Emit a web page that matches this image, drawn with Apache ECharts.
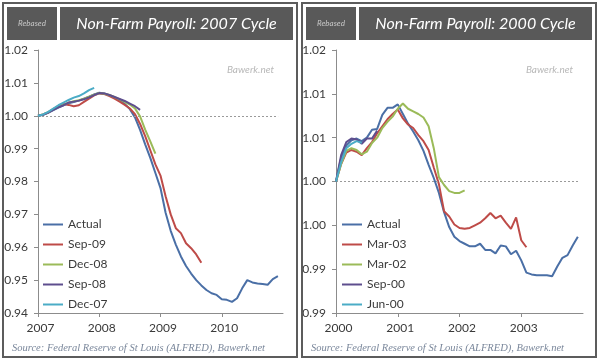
<!DOCTYPE html>
<html>
<head>
<meta charset="utf-8">
<script src="https://cdn.jsdelivr.net/npm/echarts@6/dist/echarts.min.js"></script>
<style>
html,body{margin:0;padding:0;background:#fff;}
#chart{width:600px;height:362px;}
</style>
</head>
<body>
<div id="chart"></div>
<script>
// ---------- Left panel: 2007 cycle (monthly, starting Jan-2007) ----------
const leftTitle = 'Non-Farm Payroll: 2007 Cycle';
const leftStartYear = 2007;
const leftYearTicks = [2007, 2008, 2009, 2010, 2011];
const leftSeriesNames = ['Actual', 'Sep-09', 'Dec-08', 'Sep-08', 'Dec-07'];
const leftActual = [1.0000,1.0003,1.0009,1.0017,1.0025,1.0032,1.0038,1.0042,1.0046,1.0052,1.0058,1.0065,
  1.0070,1.0068,1.0062,1.0055,1.0046,1.0036,1.0020,0.9995,0.9957,0.9913,0.9872,0.9826,
  0.9780,0.9705,0.9650,0.9608,0.9572,0.9543,0.9520,0.9500,0.9484,0.9470,0.9460,0.9455,
  0.9442,0.9440,0.9434,0.9445,0.9475,0.9500,0.9493,0.9490,0.9488,0.9486,0.9503,0.9512];
const leftSep09 = [1.0000,1.0004,1.0010,1.0020,1.0030,1.0036,1.0033,1.0029,1.0032,1.0042,1.0052,1.0062,
  1.0068,1.0066,1.0060,1.0052,1.0043,1.0033,1.0022,1.0005,0.9975,0.9938,0.9895,0.9852,
  0.9818,0.9755,0.9700,0.9658,0.9643,0.9612,0.9597,0.9578,0.9553];
const leftDec08 = [1.0000,1.0004,1.0011,1.0020,1.0028,1.0034,1.0040,1.0044,1.0047,1.0052,1.0058,1.0064,
  1.0069,1.0067,1.0063,1.0057,1.0050,1.0042,1.0034,1.0022,0.9998,0.9958,0.9922,0.9885];
const leftSep08 = [1.0000,1.0003,1.0010,1.0018,1.0026,1.0032,1.0040,1.0043,1.0046,1.0050,1.0056,1.0063,
  1.0069,1.0068,1.0063,1.0057,1.0051,1.0045,1.0037,1.0029,1.0018];
const leftDec07 = [1.0000,1.0004,1.0012,1.0022,1.0032,1.0040,1.0048,1.0055,1.0060,1.0068,1.0078,1.0085];
const leftYTicks = [0.94, 0.95, 0.96, 0.97, 0.98, 0.99, 1.00, 1.01, 1.02];
const leftBaseline = [2007, 2010.92];

// ---------- Right panel: 2000 cycle (monthly, starting Jan-2000) ----------
const rightTitle = 'Non-Farm Payroll: 2000 Cycle';
const rightStartYear = 2000;
const rightYearTicks = [2000, 2001, 2002, 2003, 2004];
const rightSeriesNames = ['Actual', 'Mar-03', 'Mar-02', 'Sep-00', 'Jun-00'];
const rightActual = [1.0000,1.0027,1.0041,1.0047,1.0049,1.0046,1.0050,1.0059,1.0060,1.0076,1.0084,1.0084,
  1.0088,1.0077,1.0066,1.0057,1.0047,1.0035,1.0019,1.0004,0.9987,0.9965,0.9948,0.9937,
  0.9932,0.9929,0.9926,0.9926,0.9929,0.9922,0.9922,0.9918,0.9927,0.9926,0.9917,0.9921,
  0.9910,0.9896,0.9894,0.9893,0.9893,0.9893,0.9892,0.9903,0.9913,0.9916,0.9927,0.9937];
const rightMar03 = [1.0000,1.0020,1.0033,1.0036,1.0034,1.0030,1.0038,1.0045,1.0055,1.0063,1.0071,1.0077,
  1.0082,1.0072,1.0065,1.0061,1.0053,1.0046,1.0036,1.0016,0.9997,0.9966,0.9960,0.9951,
  0.9947,0.9946,0.9947,0.9950,0.9953,0.9958,0.9964,0.9958,0.9961,0.9953,0.9946,0.9959,
  0.9933,0.9925];
const rightMar02 = [1.0000,1.0020,1.0035,1.0038,1.0036,1.0031,1.0034,1.0044,1.0050,1.0061,1.0068,1.0074,
  1.0083,1.0089,1.0083,1.0080,1.0077,1.0073,1.0063,1.0038,1.0005,0.9996,0.9989,0.9987,
  0.9987,0.9990];
const rightSep00 = [1.0000,1.0030,1.0045,1.0049,1.0048,1.0043,1.0049,1.0049,1.0058];
const rightJun00 = [1.0000,1.0022,1.0038,1.0043,1.0046,1.0044];
const rightYTickLabels = ['0.99', '0.99', '1.00', '1.00', '1.01', '1.01', '1.02'];
const rightYMin = 0.985, rightYMax = 1.015, rightYStep = 0.005;
const rightBaseline = [2000, 2003.92];

const seriesColors = ['#4A6FA6', '#BE4B48', '#9BBB59', '#5E4E8E', '#4BACC6'];
const sourceText = 'Source: Federal Reserve of St Louis (ALFRED), Bawerk.net';
const watermark = 'Bawerk.net';
const rebasedText = 'Rebased';

// ---------- build ----------
const FONT = 'Lato, "Liberation Sans", sans-serif';
function toPairs(arr, startYear) {
  return arr.map((v, i) => [startYear + i / 12, v]);
}
function makeSeries(names, arrays, startYear, idx, baseline) {
  return arrays.map((arr, k) => {
    const s = {
      name: names[k], type: 'line', xAxisIndex: idx, yAxisIndex: idx,
      data: toPairs(arr, startYear), showSymbol: false, symbol: 'none',
      lineStyle: { width: 2, color: seriesColors[k] }, itemStyle: { color: seriesColors[k] },
      z: 3 + k, animation: false
    };
    if (k === 0) {
      s.markLine = {
        silent: true, symbol: 'none', animation: false,
        lineStyle: { color: '#9a9a9a', type: [2, 2], width: 1 },
        label: { show: false },
        data: [[{ coord: [baseline[0], 1] }, { coord: [baseline[1], 1] }]]
      };
    }
    return s;
  });
}

const series = [].concat(
  makeSeries(leftSeriesNames, [leftActual, leftSep09, leftDec08, leftSep08, leftDec07], leftStartYear, 0, leftBaseline),
  makeSeries(rightSeriesNames, [rightActual, rightMar03, rightMar02, rightSep00, rightJun00], rightStartYear, 1, rightBaseline)
);

const axisLine = { show: true, lineStyle: { color: '#8c8c8c', width: 1 } };
const axisTick = { show: true, length: 4, inside: false, lineStyle: { color: '#8c8c8c' } };
const labelStyle = { color: '#3a3a3a', fontFamily: FONT, fontSize: 12 };

function xAxis(idx, ticks) {
  return {
    type: 'value', gridIndex: idx, min: ticks[0], max: ticks[ticks.length - 1], interval: 1,
    axisLine, axisTick, splitLine: { show: false },
    axisLabel: Object.assign({ margin: 9, showMaxLabel: false, padding: [0, 0, 0, 5],
      formatter: v => String(Math.round(v)) }, labelStyle)
  };
}

function panelGraphics(x0, title) {
  return [
    { type: 'rect', shape: { x: x0, y: 3, width: 294, height: 354 }, style: { fill: 'none', stroke: '#5c5c5c', lineWidth: 2 }, z: 100 },
    { type: 'rect', shape: { x: x0 + 4, y: 7, width: 50, height: 33 }, style: { fill: '#595959' }, z: 100 },
    { type: 'text', x: x0 + 29, y: 23.5, style: { text: rebasedText, fill: '#c8c8c8', font: 'italic 8px ' + FONT, textAlign: 'center', textVerticalAlign: 'middle' }, z: 101 },
    { type: 'rect', shape: { x: x0 + 57, y: 7, width: 233, height: 33 }, style: { fill: '#595959' }, z: 100 },
    { type: 'text', x: x0 + 173.5, y: 23.5, style: { text: title, fill: '#ffffff', font: 'italic 16px ' + FONT, textAlign: 'center', textVerticalAlign: 'middle' }, z: 101 },
    { type: 'text', x: x0 + 271, y: 70, style: { text: watermark, fill: '#b8b8b8', font: 'italic 10px ' + FONT, textAlign: 'right', textVerticalAlign: 'middle' }, z: 101 },
    { type: 'text', x: x0 + 9, y: 348, style: { text: sourceText, fill: '#7a879b', font: 'italic 10.5px "Liberation Serif", serif', textAlign: 'left', textVerticalAlign: 'middle' }, z: 101 }
  ];
}

const legendCommon = {
  orient: 'vertical', top: 217, itemWidth: 20, itemHeight: 2, itemGap: 5,
  icon: 'rect', padding: 0,
  textStyle: { color: '#3a3a3a', fontFamily: FONT, fontSize: 12, lineHeight: 15 }, selectedMode: false
};

const option = {
  animation: false,
  backgroundColor: '#ffffff',
  grid: [
    { left: 38, right: 317, top: 50, bottom: 49, containLabel: false },
    { left: 336, right: 17, top: 50, bottom: 49, containLabel: false }
  ],
  xAxis: [xAxis(0, leftYearTicks), xAxis(1, rightYearTicks)],
  yAxis: [
    { type: 'value', gridIndex: 0, min: leftYTicks[0], max: leftYTicks[leftYTicks.length - 1], interval: 0.01,
      axisLine, axisTick, splitLine: { show: false },
      axisLabel: Object.assign({ margin: 10, formatter: v => v.toFixed(2) }, labelStyle) },
    { type: 'value', gridIndex: 1, min: rightYMin, max: rightYMax, interval: rightYStep,
      axisLine, axisTick, splitLine: { show: false },
      axisLabel: Object.assign({ margin: 10,
        formatter: v => rightYTickLabels[Math.round((v - rightYMin) / rightYStep)] || '' }, labelStyle) }
  ],
  legend: [
    Object.assign({ data: leftSeriesNames, left: 43 }, legendCommon),
    Object.assign({ data: rightSeriesNames, left: 342 }, legendCommon)
  ],
  graphic: [].concat(panelGraphics(3, leftTitle), panelGraphics(302, rightTitle)),
  series
};

const chart = echarts.init(document.getElementById('chart'), null, { renderer: 'canvas' });
chart.setOption(option);
</script>
</body>
</html>
